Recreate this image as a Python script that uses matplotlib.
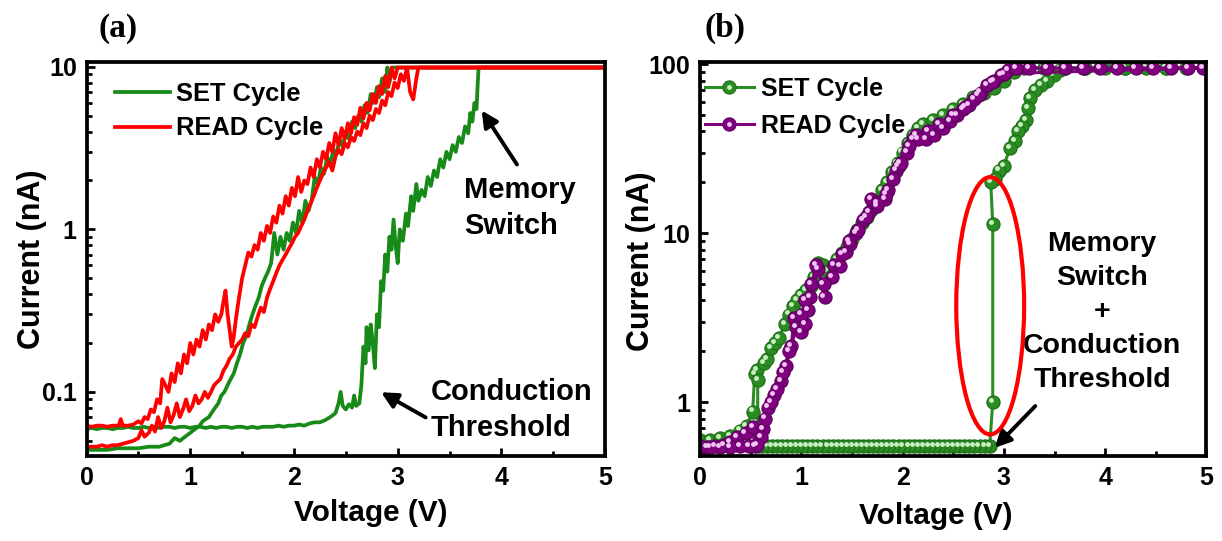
import matplotlib
matplotlib.use("Agg")
import matplotlib.pyplot as plt
from matplotlib.patches import Ellipse
from matplotlib.transforms import ScaledTranslation
from matplotlib.legend_handler import HandlerTuple
from matplotlib.ticker import FixedLocator, MultipleLocator, NullFormatter

plt.rcParams['font.family'] = ['Liberation Sans', 'DejaVu Sans']
plt.rcParams['font.weight'] = 'bold'
plt.rcParams['axes.labelweight'] = 'bold'

# ---------------- panel (a): noisy I-V sweeps ----------------
# SET cycle, forward sweep (upper 0.06 nA baseline -> compliance at 3.78 V)
a_set_up_v = [0.00, 0.05, 0.10, 0.15, 0.20, 0.25, 0.30, 0.35, 0.40, 0.45, 0.50, 0.55, 0.60, 0.65, 0.70,
              0.75, 0.80, 0.85, 0.90, 0.95, 1.00, 1.05, 1.10, 1.15, 1.20, 1.25, 1.30, 1.35, 1.40, 1.45,
              1.50, 1.55, 1.60, 1.65, 1.70, 1.75, 1.80, 1.85, 1.90, 1.95, 2.00, 2.05, 2.10, 2.15, 2.20,
              2.25, 2.30, 2.35, 2.40, 2.43, 2.45, 2.47, 2.50, 2.53, 2.56, 2.58, 2.60, 2.63, 2.65, 2.67,
              2.69, 2.70, 2.72, 2.74, 2.76, 2.78, 2.80, 2.82, 2.84, 2.86, 2.88, 2.90, 2.92, 2.94, 2.96,
              2.98, 3.00, 3.02, 3.05, 3.08, 3.10, 3.13, 3.15, 3.18, 3.20, 3.23, 3.26, 3.29, 3.32, 3.35,
              3.38, 3.41, 3.44, 3.47, 3.50, 3.53, 3.56, 3.59, 3.62, 3.65, 3.68, 3.70, 3.72, 3.74, 3.76,
              3.77, 3.78, 4.20, 4.60, 5.00]
a_set_up_i = [0.059, 0.060, 0.059, 0.060, 0.060, 0.059, 0.060, 0.060, 0.061, 0.060, 0.060, 0.061, 0.060,
              0.061, 0.060, 0.061, 0.061, 0.060, 0.061, 0.061, 0.060, 0.061, 0.061, 0.060, 0.061, 0.060,
              0.061, 0.061, 0.060, 0.061, 0.061, 0.060, 0.061, 0.060, 0.061, 0.061, 0.061, 0.062, 0.061,
              0.062, 0.062, 0.063, 0.062, 0.064, 0.065, 0.065, 0.067, 0.070, 0.074, 0.085, 0.100, 0.082,
              0.078, 0.084, 0.080, 0.095, 0.082, 0.085, 0.110, 0.190, 0.150, 0.250, 0.180, 0.260, 0.200,
              0.140, 0.300, 0.250, 0.480, 0.420, 0.700, 0.550, 0.900, 0.750, 1.150, 0.800, 0.620, 1.000,
              0.850, 1.250, 1.050, 1.600, 1.300, 1.900, 1.500, 1.750, 1.600, 2.100, 1.850, 2.300, 2.100,
              2.700, 2.400, 3.000, 2.700, 3.300, 3.000, 3.700, 3.400, 4.300, 3.900, 5.200, 4.600, 6.000,
              5.500, 7.500, 9.900, 9.900, 9.900, 9.900]

# SET cycle, return sweep (compliance -> lower 0.045 nA baseline)
a_set_dn_v = [5.00, 4.00, 3.00, 2.98, 2.95, 2.92, 2.90, 2.88, 2.85, 2.82, 2.80, 2.77, 2.74, 2.71, 2.68,
              2.65, 2.62, 2.59, 2.56, 2.53, 2.50, 2.47, 2.44, 2.41, 2.38, 2.35, 2.32, 2.29, 2.26, 2.23,
              2.20, 2.17, 2.14, 2.11, 2.08, 2.05, 2.02, 1.99, 1.96, 1.93, 1.90, 1.87, 1.84, 1.81, 1.78,
              1.75, 1.72, 1.69, 1.66, 1.63, 1.60, 1.57, 1.54, 1.51, 1.48, 1.45, 1.42, 1.39, 1.36, 1.33,
              1.30, 1.27, 1.24, 1.21, 1.18, 1.15, 1.12, 1.09, 1.06, 1.03, 1.00, 0.95, 0.90, 0.85, 0.80,
              0.75, 0.70, 0.60, 0.50, 0.40, 0.30, 0.20, 0.10, 0.00]
a_set_dn_i = [9.9, 9.9, 9.9, 9.9, 9.9, 8.0, 9.9, 7.0, 8.5, 6.5, 7.5, 6.0, 6.8, 5.2, 5.8, 4.6, 5.0, 4.2,
              4.6, 3.6, 4.0, 3.2, 3.6, 2.9, 3.1, 2.5, 2.8, 2.2, 2.4, 1.9, 2.1, 1.5, 1.3, 1.5, 1.1, 1.3,
              0.95, 1.10, 0.85, 0.95, 0.75, 0.90, 0.70, 0.95, 0.62, 0.55, 0.50, 0.45, 0.38, 0.34, 0.30,
              0.26, 0.22, 0.20, 0.17, 0.15, 0.13, 0.12, 0.11, 0.100, 0.095, 0.085, 0.080, 0.075, 0.070,
              0.068, 0.066, 0.062, 0.060, 0.058, 0.056, 0.053, 0.050, 0.052, 0.048, 0.047, 0.046, 0.046,
              0.045, 0.045, 0.045, 0.044, 0.044, 0.044]

# READ cycle, forward sweep (lower 0.046 nA baseline -> compliance)
a_read_up_v = [0.00, 0.05, 0.10, 0.15, 0.20, 0.25, 0.30, 0.35, 0.40, 0.45, 0.50, 0.53, 0.56, 0.60, 0.63,
               0.66, 0.69, 0.72, 0.75, 0.78, 0.81, 0.84, 0.87, 0.90, 0.93, 0.96, 0.99, 1.02, 1.05, 1.08,
               1.11, 1.14, 1.17, 1.20, 1.23, 1.26, 1.29, 1.32, 1.35, 1.38, 1.41, 1.44, 1.47, 1.50, 1.53,
               1.56, 1.59, 1.62, 1.65, 1.68, 1.71, 1.74, 1.77, 1.80, 1.83, 1.86, 1.89, 1.92, 1.95, 1.98,
               2.01, 2.04, 2.07, 2.10, 2.13, 2.16, 2.19, 2.22, 2.25, 2.28, 2.31, 2.34, 2.37, 2.40, 2.43,
               2.46, 2.49, 2.52, 2.55, 2.58, 2.61, 2.64, 2.67, 2.70, 2.73, 2.76, 2.79, 2.82, 2.85, 2.88,
               2.91, 2.94, 2.97, 3.00, 3.03, 3.06, 3.09, 3.12, 3.15, 3.18, 3.20, 3.60, 4.00, 4.50, 5.00]
a_read_up_i = [0.046, 0.046, 0.046, 0.047, 0.046, 0.047, 0.047, 0.048, 0.049, 0.050, 0.052, 0.058, 0.053,
               0.056, 0.062, 0.057, 0.070, 0.060, 0.066, 0.080, 0.065, 0.072, 0.085, 0.070, 0.078, 0.090,
               0.076, 0.082, 0.095, 0.085, 0.090, 0.100, 0.092, 0.100, 0.110, 0.115, 0.120, 0.135, 0.145,
               0.160, 0.170, 0.190, 0.200, 0.210, 0.230, 0.220, 0.260, 0.250, 0.290, 0.330, 0.310, 0.380,
               0.430, 0.480, 0.540, 0.600, 0.650, 0.700, 0.760, 0.820, 0.900, 0.950, 1.050, 1.150, 1.300,
               1.450, 1.600, 1.800, 2.000, 2.200, 2.400, 2.600, 2.300, 2.800, 3.100, 2.900, 3.400, 3.200,
               3.700, 3.500, 4.000, 3.800, 4.500, 4.200, 5.000, 4.700, 5.500, 5.200, 6.200, 5.800, 7.000,
               6.600, 8.000, 7.400, 9.000, 8.200, 9.900, 7.000, 6.300, 8.500, 9.900, 9.900, 9.900, 9.900,
               9.900]

# READ cycle, return sweep (compliance -> upper 0.062 nA baseline)
a_read_dn_v = [5.00, 4.00, 3.00, 2.97, 2.94, 2.91, 2.88, 2.85, 2.82, 2.79, 2.76, 2.73, 2.70, 2.67, 2.64,
               2.61, 2.58, 2.55, 2.52, 2.49, 2.46, 2.43, 2.40, 2.37, 2.34, 2.31, 2.28, 2.25, 2.22, 2.19,
               2.16, 2.13, 2.10, 2.07, 2.04, 2.01, 1.98, 1.95, 1.92, 1.89, 1.86, 1.83, 1.80, 1.77, 1.74,
               1.71, 1.68, 1.65, 1.62, 1.59, 1.56, 1.53, 1.50, 1.47, 1.44, 1.42, 1.40, 1.38, 1.36, 1.34,
               1.32, 1.30, 1.27, 1.24, 1.21, 1.18, 1.15, 1.12, 1.09, 1.06, 1.03, 1.00, 0.97, 0.94, 0.91,
               0.88, 0.85, 0.82, 0.79, 0.76, 0.73, 0.71, 0.68, 0.65, 0.62, 0.59, 0.56, 0.53, 0.50, 0.45,
               0.40, 0.35, 0.33, 0.31, 0.25, 0.20, 0.15, 0.10, 0.05, 0.00]
a_read_dn_i = [9.9, 9.9, 9.9, 8.5, 9.9, 7.5, 8.8, 6.8, 7.6, 6.0, 6.8, 5.4, 6.0, 4.8, 5.6, 4.4, 4.9, 3.9,
               4.5, 3.6, 4.2, 3.3, 3.9, 3.0, 3.4, 2.7, 3.0, 2.4, 2.7, 2.1, 2.4, 1.9, 2.0, 1.7, 2.1, 1.6,
               1.8, 1.4, 1.6, 1.25, 1.4, 1.1, 1.2, 0.95, 1.05, 0.85, 0.95, 0.75, 0.80, 0.68, 0.72, 0.60,
               0.50, 0.38, 0.28, 0.22, 0.19, 0.24, 0.30, 0.42, 0.36, 0.30, 0.27, 0.30, 0.24, 0.26, 0.21,
               0.24, 0.19, 0.21, 0.17, 0.20, 0.15, 0.17, 0.13, 0.15, 0.115, 0.13, 0.10, 0.11, 0.12, 0.085,
               0.090, 0.075, 0.078, 0.068, 0.070, 0.064, 0.066, 0.063, 0.062, 0.062, 0.068, 0.062, 0.062,
               0.061, 0.062, 0.062, 0.061, 0.062]

# ---------------- panel (b): point-by-point sweeps ----------------
b_set_v = [0.00, 0.10, 0.20, 0.30, 0.40, 0.46, 0.52, 0.54, 0.56, 0.63, 0.66, 0.70, 0.74, 0.78, 0.84,
           0.88, 0.92, 0.96, 1.00, 1.05, 1.10, 1.13, 1.17, 1.21, 1.25, 1.30, 1.35, 1.40, 1.45, 1.50,
           1.55, 1.60, 1.65, 1.70, 1.75, 1.80, 1.85, 1.90, 1.95, 2.00, 2.05, 2.10, 2.15, 2.20, 2.30,
           2.40, 2.50, 2.60, 2.70, 2.80, 2.90, 3.00, 3.10, 3.20, 3.40, 3.60, 3.80, 4.00, 4.20, 4.40,
           4.60, 4.80, 5.00, 4.60, 4.20, 3.80, 3.55, 3.49, 3.43, 3.37, 3.31, 3.26, 3.24, 3.22, 3.18,
           3.14, 3.11, 3.06, 3.00, 2.95, 2.91, 2.87, 2.89, 2.89, 2.86, 2.81, 2.76, 2.71, 2.66, 2.61,
           2.56, 2.51, 2.46, 2.41, 2.36, 2.31, 2.26, 2.21, 2.16, 2.11, 2.06, 2.01, 1.96, 1.91, 1.86,
           1.81, 1.76, 1.71, 1.66, 1.61, 1.56, 1.51, 1.46, 1.41, 1.36, 1.31, 1.26, 1.21, 1.16, 1.11,
           1.06, 1.01, 0.96, 0.91, 0.86, 0.81, 0.76, 0.71, 0.66, 0.61, 0.57, 0.57]
b_set_i = [0.60, 0.60, 0.61, 0.63, 0.68, 0.72, 0.88, 1.46, 1.55, 1.70, 1.80, 2.10, 2.25, 2.40, 2.90,
           3.30, 3.70, 4.00, 4.30, 4.60, 4.90, 5.50, 6.70, 6.50, 6.00, 6.20, 7.00, 7.60, 8.30, 9.20,
           10.5, 11.5, 12.5, 14.0, 15.5, 18.0, 20.0, 23.0, 26.0, 30.0, 34.0, 38.0, 42.0, 44.0, 47.0,
           50.0, 54.0, 58.0, 64.0, 68.0, 72.0, 80.0, 90.0, 95.0, 95.0, 95.0, 95.0, 95.0, 95.0, 95.0,
           95.0, 95.0, 95.0, 95.0, 95.0, 95.0, 93.0, 86.0, 80.0, 75.0, 70.0, 63.0, 55.0, 47.0, 43.0,
           40.0, 35.0, 32.0, 25.0, 23.5, 21.0, 20.0, 11.4, 1.00, 0.55, 0.55, 0.55, 0.55, 0.55, 0.55,
           0.55, 0.55, 0.55, 0.55, 0.55, 0.55, 0.55, 0.55, 0.55, 0.55, 0.55, 0.55, 0.55, 0.55, 0.55,
           0.55, 0.55, 0.55, 0.55, 0.55, 0.55, 0.55, 0.55, 0.55, 0.55, 0.55, 0.55, 0.55, 0.55, 0.55,
           0.55, 0.55, 0.55, 0.55, 0.55, 0.55, 0.55, 0.55, 0.55, 0.55, 0.55, 1.35]

b_read_v = [0.00, 0.07, 0.15, 0.24, 0.30, 0.37, 0.45, 0.52, 0.54, 0.62, 0.67, 0.73, 0.80, 0.85, 0.90,
            0.93, 0.95, 1.00, 1.04, 1.07, 1.09, 1.17, 1.23, 1.32, 1.38, 1.44, 1.48, 1.54, 1.61, 1.67,
            1.69, 1.75, 1.83, 1.86, 1.94, 1.96, 2.04, 2.10, 2.13, 2.23, 2.31, 2.40, 2.47, 2.54, 2.60,
            2.66, 2.71, 2.77, 2.83, 2.90, 2.97, 3.04, 3.12, 3.25, 3.43, 3.60, 3.78, 3.95, 4.12, 4.30,
            4.47, 4.65, 4.82, 4.97, 3.00, 2.88, 2.75, 2.62, 2.50, 2.36, 2.25, 2.15, 2.06, 1.98, 1.91,
            1.84, 1.75, 1.64, 1.56, 1.47, 1.40, 1.30, 1.22, 1.15, 1.10, 1.04, 1.00, 0.88, 0.82, 0.76,
            0.70, 0.64, 0.60, 0.56, 0.48, 0.40, 0.30, 0.20, 0.10, 0.00]
b_read_i = [0.54, 0.54, 0.55, 0.56, 0.58, 0.62, 0.66, 0.71, 0.55, 0.69, 0.93, 1.10, 1.33, 1.63, 2.14,
            3.15, 2.80, 2.60, 2.90, 3.50, 4.20, 6.10, 4.20, 6.50, 6.40, 7.70, 8.60, 10.0, 12.0, 13.3,
            16.0, 14.5, 16.0, 17.9, 23.5, 25.0, 30.0, 36.0, 38.0, 36.0, 38.0, 42.0, 46.0, 50.0, 54.0,
            57.0, 62.0, 68.0, 75.0, 80.0, 86.0, 92.0, 95.0, 95.0, 95.0, 95.0, 95.0, 95.0, 95.0, 95.0,
            95.0, 95.0, 95.0, 95.0, 88.0, 78.0, 66.0, 56.0, 50.0, 44.0, 40.0, 36.0, 33.0, 26.0, 21.0,
            17.0, 15.0, 12.5, 10.5, 9.00, 7.50, 5.50, 5.00, 6.50, 5.00, 4.00, 3.30, 2.00, 1.50, 1.20,
            1.00, 0.80, 0.62, 0.56, 0.55, 0.55, 0.54, 0.54, 0.54, 0.55]

green_a = '#178a17'
red_a = '#ff0000'
green_b = '#2a8c22'
purple_b = '#800080'

fig = plt.figure(figsize=(12.22, 5.41), dpi=100)
ax1 = fig.add_axes([0.0708, 0.157, 0.4244, 0.7283])
ax2 = fig.add_axes([0.5728, 0.157, 0.4145, 0.7283])


def style_axes(ax, ylim, yticks, ylabels):
    ax.set_yscale('log')
    ax.set_xlim(0, 5)
    ax.set_ylim(*ylim)
    ax.xaxis.set_major_locator(MultipleLocator(1))
    ax.xaxis.set_minor_locator(MultipleLocator(0.5))
    ax.set_yticks(yticks)
    ax.set_yticklabels(ylabels)
    ax.yaxis.set_minor_formatter(NullFormatter())
    for s in ax.spines.values():
        s.set_linewidth(2.7)
    ax.tick_params(which='both', direction='in', top=False, right=False, width=2.0)
    ax.tick_params(which='major', length=6, labelsize=18, pad=7)
    ax.tick_params(which='minor', length=3.5)
    for lab in ax.get_xticklabels() + ax.get_yticklabels():
        lab.set_fontweight('bold')
    ax.set_xlabel('Voltage (V)', fontsize=21.5, fontweight='bold')
    ax.set_ylabel('Current (nA)', fontsize=22, fontweight='bold')
    ax.xaxis.label.set_va('center')
    ax.yaxis.label.set_va('center')


# ---- panel (a)
style_axes(ax1, (0.0403, 10.7), [0.1, 1, 10], ['0.1', '1', '10'])
lw_a = 2.7
l_set, = ax1.plot(a_set_up_v, a_set_up_i, color=green_a, lw=lw_a, label='SET Cycle')
ax1.plot(a_set_dn_v, a_set_dn_i, color=green_a, lw=lw_a)
l_read, = ax1.plot(a_read_up_v, a_read_up_i, color=red_a, lw=lw_a, label='READ Cycle')
ax1.plot(a_read_dn_v, a_read_dn_i, color=red_a, lw=lw_a)
ax1.xaxis.set_label_coords(0.549, -0.144)
ax1.yaxis.set_label_coords(-0.105, 0.5)
ax1.legend(handles=[l_set, l_read], loc='upper left', bbox_to_anchor=(0.055, 0.95),
           frameon=False, fontsize=18.4, handlelength=2.15, handletextpad=0.25,
           labelspacing=0.42, borderpad=0, borderaxespad=0)

arrow_kw = dict(arrowstyle='-|>', lw=2.8, color='black', mutation_scale=24, shrinkA=0, shrinkB=0)
ax1.annotate('', xy=(3.81, 0.877), xytext=(4.15, 0.740),
             xycoords=('data', 'axes fraction'), textcoords=('data', 'axes fraction'), arrowprops=arrow_kw)
ax1.annotate('', xy=(2.84, 0.162), xytext=(3.27, 0.098),
             xycoords=('data', 'axes fraction'), textcoords=('data', 'axes fraction'), arrowprops=arrow_kw)
ax1.text(3.64, 0.629, 'Memory\nSwitch', transform=ax1.get_xaxis_transform(),
         ha='left', va='center', fontsize=21, fontweight='bold', linespacing=1.38)
ax1.text(3.32, 0.117, 'Conduction\nThreshold', transform=ax1.get_xaxis_transform(),
         ha='left', va='center', fontsize=21, fontweight='bold', linespacing=1.38)

# ---- panel (b)
style_axes(ax2, (0.48, 103), [1, 10, 100], ['1', '10', '100'])
shine = ax2.transData + ScaledTranslation(-1.5 / 72, 1.5 / 72, fig.dpi_scale_trans)
ms = 9.5
p_set, = ax2.plot(b_set_v, b_set_i, color=green_b, lw=2.2, marker='o', ms=ms,
                  mec='#1d6e18', mew=0.8)
h_set, = ax2.plot(b_set_v, b_set_i, ls='none', marker='o', ms=3.5, color='#c9efc0',
                  mew=0, transform=shine)
p_read, = ax2.plot(b_read_v, b_read_i, color=purple_b, lw=2.2, marker='o', ms=ms,
                   mec='#5c005c', mew=0.8)
h_read, = ax2.plot(b_read_v, b_read_i, ls='none', marker='o', ms=3.5, color='#f2c6f2',
                   mew=0, transform=shine)
ax2.xaxis.set_label_coords(0.466, -0.152)
ax2.yaxis.set_label_coords(-0.116, 0.494)
ax2.legend(handles=[(p_set, h_set), (p_read, h_read)], labels=['SET Cycle', 'READ Cycle'],
           handler_map={tuple: HandlerTuple(ndivide=1, pad=0)}, numpoints=1,
           loc='upper left', bbox_to_anchor=(0.01, 0.962), frameon=False, fontsize=18,
           handlelength=1.95, handletextpad=0.3, labelspacing=0.5, borderpad=0, borderaxespad=0)

ax2.add_patch(Ellipse((0.573, 0.3815), 0.134, 0.653, transform=ax2.transAxes,
                      fill=False, edgecolor='#ff0000', lw=3.0, zorder=5))
ax2.annotate('', xy=(2.91, 0.021), xytext=(3.31, 0.127),
             xycoords=('data', 'axes fraction'), textcoords=('data', 'axes fraction'), arrowprops=arrow_kw)
ax2.text(3.97, 0.365, 'Memory\nSwitch\n+\nConduction\nThreshold', transform=ax2.get_xaxis_transform(),
         ha='center', va='center', fontsize=20.5, fontweight='bold', linespacing=1.4)

fig.text(0.0966, 0.948, '(a)', family=['Liberation Serif', 'DejaVu Serif'], fontsize=24,
         fontweight='bold', ha='center', va='center')
fig.text(0.593, 0.948, '(b)', family=['Liberation Serif', 'DejaVu Serif'], fontsize=24,
         fontweight='bold', ha='center', va='center')

fig.savefig('out.png', dpi=100)
